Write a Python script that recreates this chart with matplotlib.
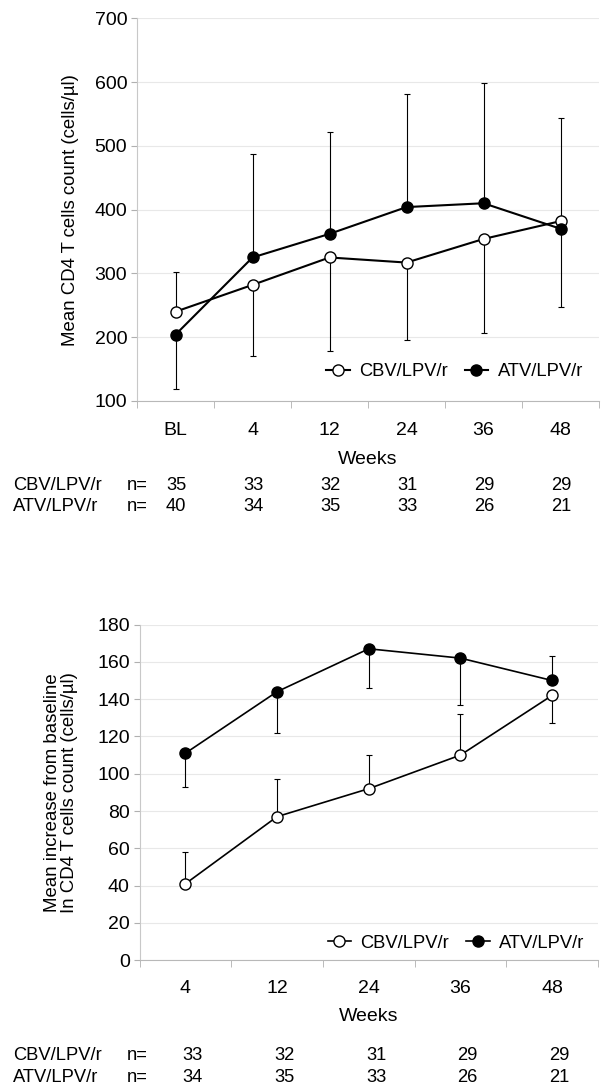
import numpy as np
import matplotlib.pyplot as plt
from matplotlib.transforms import blended_transform_factory

plt.rcParams['font.family'] = ['Liberation Sans', 'DejaVu Sans']

# top panel: mean CD4 count
weeks_top = ['BL', '4', '12', '24', '36', '48']
cbv_mean = [240, 282, 325, 317, 354, 382]
atv_mean = [204, 325, 362, 404, 410, 370]
# error bars are drawn one-sided (lower, upper)
cbv_err_lo = [0, 112, 147, 121, 148, 0]
cbv_err_hi = [62, 0, 0, 0, 0, 162]
atv_err_lo = [86, 0, 0, 0, 0, 123]
atv_err_hi = [0, 162, 159, 177, 188, 0]
cbv_n_top = [35, 33, 32, 31, 29, 29]
atv_n_top = [40, 34, 35, 33, 26, 21]

# bottom panel: mean increase from baseline
weeks_bot = ['4', '12', '24', '36', '48']
cbv_inc = [41, 77, 92, 110, 142]
atv_inc = [111, 144, 167, 162, 150]
cbv_inc_lo = [0, 0, 0, 0, 15]
cbv_inc_hi = [17, 20, 18, 22, 0]
atv_inc_lo = [18, 22, 21, 25, 0]
atv_inc_hi = [0, 0, 0, 0, 13]
cbv_n_bot = [33, 32, 31, 29, 29]
atv_n_bot = [34, 35, 33, 26, 21]

series = ['CBV/LPV/r', 'ATV/LPV/r']


def draw_panel(ax, labels, cbv, atv, cbv_err, atv_err, ylim, yticks, lw, xpad):
  x = np.arange(len(labels))
  ax.errorbar(x, cbv, yerr=cbv_err, fmt='none', ecolor='black',
              elinewidth=0.8, capsize=2, capthick=0.8, zorder=2)
  ax.errorbar(x, atv, yerr=atv_err, fmt='none', ecolor='black',
              elinewidth=0.8, capsize=2, capthick=0.8, zorder=2)
  l1, = ax.plot(x, cbv, '-o', color='black', mfc='white', mec='black',
                ms=8, mew=1.0, lw=lw, zorder=3)
  l2, = ax.plot(x, atv, '-o', color='black', mfc='black', mec='black',
                ms=8, mew=1.0, lw=lw, zorder=3)
  ax.set_xlim(-0.5, len(labels) - 0.5)
  ax.set_ylim(*ylim)
  ax.set_yticks(yticks)
  ax.set_xticks(x)
  ax.set_xticklabels(labels)
  ax.set_xticks(np.arange(-0.5, len(labels), 1), minor=True)
  ax.tick_params(axis='x', which='major', length=0, labelsize=14, pad=xpad)
  ax.tick_params(axis='x', which='minor', length=5, color='#b0b0b0')
  ax.tick_params(axis='y', length=4, color='#b0b0b0', labelsize=14, pad=3)
  ax.grid(axis='y', color='#e8e8e8', lw=0.8)
  ax.set_axisbelow(True)
  for s in ['top', 'right']:
    ax.spines[s].set_visible(False)
  ax.spines['left'].set_color('#c8c8c8')
  ax.spines['bottom'].set_color('#b8b8b8')
  ax.set_xlabel('Weeks', fontsize=14)
  return l1, l2


def n_table(fig, ax, cbv_n, atv_n, ys, xoff):
  tr = blended_transform_factory(ax.transData, fig.transFigure)
  for name, vals, y in zip(series, [cbv_n, atv_n], ys):
    fig.text(0.022, y, name, fontsize=13.2, va='center')
    fig.text(0.208, y, 'n=', fontsize=13.2, va='center')
    for i, v in enumerate(vals):
      ax.text(i + xoff, y, str(v), transform=tr, fontsize=13.2,
              ha='center', va='center')


fig = plt.figure(figsize=(6.12, 10.89), dpi=100)

ax1 = fig.add_axes([0.2239, 0.6318, 0.7549, 0.3514])
h = draw_panel(ax1, weeks_top, cbv_mean, atv_mean,
               [cbv_err_lo, cbv_err_hi], [atv_err_lo, atv_err_hi],
               (100, 700), range(100, 701, 100), 1.5, 15)
ax1.set_ylabel('Mean CD4 T cells count (cells/µl)', fontsize=13.4, labelpad=11)
ax1.xaxis.labelpad = 9
ax1.legend(h, series, loc='center right', bbox_to_anchor=(0.985, 0.076),
           frameon=False, ncol=2, fontsize=13.2, handlelength=1.3,
           handletextpad=0.5, columnspacing=0.9, borderpad=0)
n_table(fig, ax1, cbv_n_top, atv_n_top,
        [1 - 485 / 1089, 1 - 507 / 1089], 0.01)

ax2 = fig.add_axes([0.228, 0.1182, 0.749, 0.3083])
h = draw_panel(ax2, weeks_bot, cbv_inc, atv_inc,
               [cbv_inc_lo, cbv_inc_hi], [atv_inc_lo, atv_inc_hi],
               (0, 180), range(0, 181, 20), 1.2, 14)
ax2.set_ylabel('Mean increase from baseline\nIn CD4 T cells count (cells/µl)',
               fontsize=13.4, labelpad=14, linespacing=1.0)
ax2.xaxis.labelpad = 8
ax2.legend(h, series, loc='center right', bbox_to_anchor=(0.99, 0.051),
           frameon=False, ncol=2, fontsize=13.2, handlelength=1.3,
           handletextpad=0.5, columnspacing=0.9, borderpad=0)
n_table(fig, ax2, cbv_n_bot, atv_n_bot,
        [1 - 1056 / 1089, 1 - 1077 / 1089], 0.08)

fig.savefig('out.png', dpi=100)
